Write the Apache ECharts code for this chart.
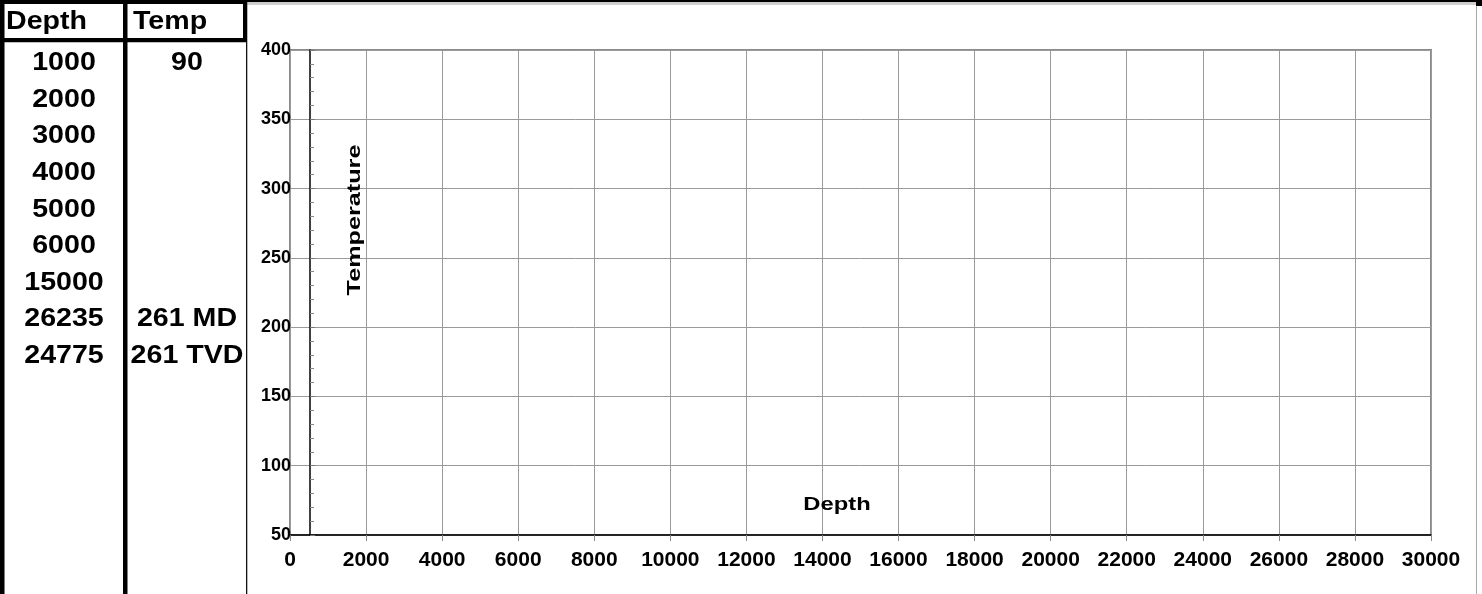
<!DOCTYPE html>
<html>
<head>
<meta charset="utf-8">
<script src="https://cdn.jsdelivr.net/npm/echarts@6/dist/echarts.min.js"></script>
<style>
  html, body { margin: 0; padding: 0; background: #fff; }
  #chart { width: 1482px; height: 594px; }
</style>
</head>
<body>
<div id="chart"></div>
<script>
// ---- data ----
const tableHeaders = ['Depth', 'Temp'];
const depthCol = ['1000', '2000', '3000', '4000', '5000', '6000', '15000', '26235', '24775'];
const tempCol = ['90', '', '', '', '', '', '', '261 MD', '261 TVD'];
const xMin = 0, xMax = 30000, xStep = 2000;
const yMin = 50, yMax = 400, yStep = 50;
const xTitle = 'Depth';
const yTitle = 'Temperature';
const seriesPoints = []; // no plotted points visible in the chart

// ---- build ----
const FONT = '"Liberation Sans", Arial, sans-serif';
const chart = echarts.init(document.getElementById('chart'), null, { renderer: 'canvas' });

function txt(str, x, y, size, align, sx, rot) {
  return {
    type: 'text', x: x, y: y, scaleX: sx || 1, rotation: rot || 0, z: 100,
    style: {
      text: str, fill: '#000', fontSize: size, fontWeight: 'bold', fontFamily: FONT,
      align: align, textAlign: align, verticalAlign: 'middle', textVerticalAlign: 'middle'
    }
  };
}
function box(x, y, w, h, color) {
  return { type: 'rect', shape: { x: x, y: y, width: w, height: h }, style: { fill: color }, z: 90, silent: true };
}

const graphics = [];
// frame lines
graphics.push(box(0, 0, 1482, 2.3, '#000'));
graphics.push(box(246, 2.3, 1230, 2.7, '#cfcfcf'));
graphics.push(box(1476, 0, 1, 594, '#a8a8a8'));
graphics.push(box(1476, 0, 6, 6, '#000'));
// table lines
graphics.push(box(0, 0, 4.5, 594, '#000'));
graphics.push(box(123, 0, 4.5, 594, '#000'));
graphics.push(box(246, 0, 1.3, 594, '#111'));
graphics.push(box(0, 0, 247, 4, '#000'));
graphics.push(box(0, 38, 247, 4.3, '#000'));
graphics.push(box(243, 0, 4, 42, '#000'));
// table text
graphics.push(txt(tableHeaders[0], 6, 22, 26, 'left', 1.1));
graphics.push(txt(tableHeaders[1], 133, 22, 26, 'left', 1.1));
depthCol.forEach((v, i) => { if (v) graphics.push(txt(v, 64, 63 + i * 36.6, 26, 'center', 1.1)); });
tempCol.forEach((v, i) => { if (v) graphics.push(txt(v, 187, 63 + i * 36.6, 26, 'center', 1.1)); });
// axis titles
graphics.push(txt(yTitle, 355, 220, 18, 'center', 1.4, Math.PI / 2));
graphics.push(txt(xTitle, 837, 505, 19, 'center', 1.25));

const axisLabelBase = { color: '#000', fontWeight: 'bold', fontFamily: FONT, formatter: v => String(v) };

const option = {
  animation: false,
  backgroundColor: '#fff',
  grid: {
    left: 290, top: 50, width: 1141, height: 485,
    show: true, borderColor: '#8a8a8a', borderWidth: 2, backgroundColor: 'transparent',
    containLabel: false
  },
  xAxis: {
    type: 'value', min: xMin, max: xMax, interval: xStep,
    axisLine: { show: true, onZero: false, lineStyle: { color: '#000', width: 1.5 } },
    axisTick: { show: true, length: 6, lineStyle: { color: '#888' } },
    axisLabel: Object.assign({ fontSize: 21, margin: 15, showMaxLabel: true, showMinLabel: true, hideOverlap: false }, axisLabelBase),
    splitLine: { show: true, lineStyle: { color: '#9a9a9a', width: 1 } }
  },
  yAxis: [
    {
      type: 'value', min: yMin, max: yMax, interval: yStep, position: 'left',
      axisLine: { show: false },
      axisTick: { show: false },
      axisLabel: Object.assign({ fontSize: 18, margin: -1 }, axisLabelBase),
      splitLine: { show: true, lineStyle: { color: '#9a9a9a', width: 1 } }
    },
    {
      type: 'value', min: yMin, max: yMax, interval: yStep, position: 'left', offset: -20,
      axisLine: { show: true, onZero: false, lineStyle: { color: '#000', width: 1.5 } },
      axisTick: { show: true, inside: true, length: 5, lineStyle: { color: '#777' } },
      minorTick: { show: true, splitNumber: 5, length: 4, lineStyle: { color: '#888' } },
      axisLabel: { show: false },
      splitLine: { show: false }
    }
  ],
  series: [
    { type: 'line', xAxisIndex: 0, yAxisIndex: 0, data: seriesPoints, symbol: 'none' }
  ],
  graphic: graphics
};
chart.setOption(option);
</script>
</body>
</html>
